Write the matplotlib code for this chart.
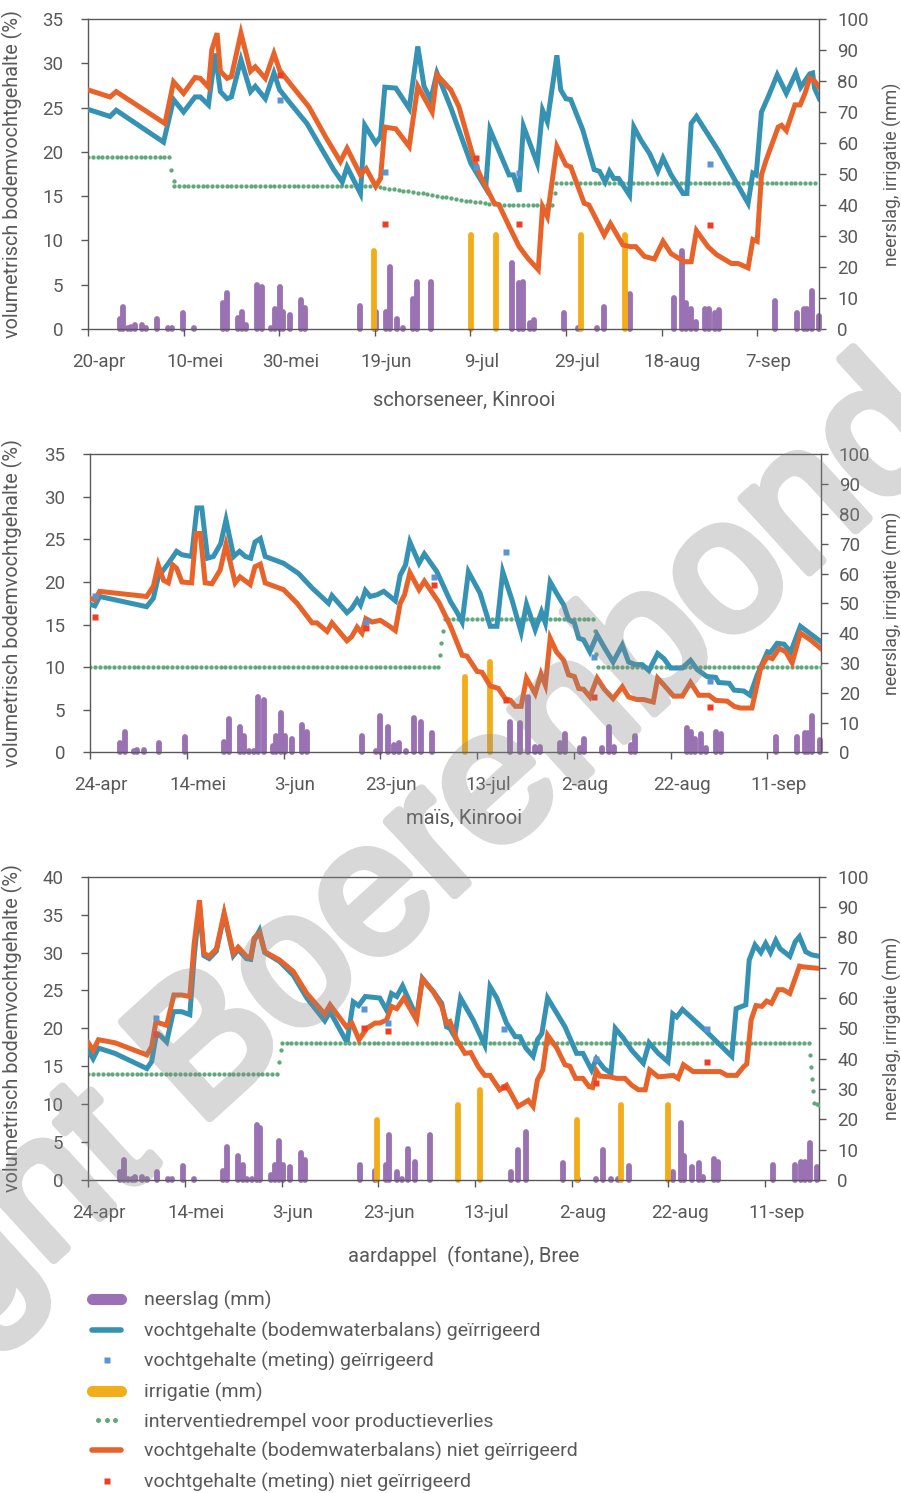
import numpy as np
import matplotlib
matplotlib.use('Agg')
import matplotlib.pyplot as plt
from matplotlib.lines import Line2D
from matplotlib.legend_handler import HandlerLine2D
from matplotlib.transforms import ScaledTranslation
from matplotlib import patheffects

plt.rcParams['font.family'] = ['Roboto', 'DejaVu Sans']

GRAY = '#595959'
BLUE = '#3592b3'
ORANGE = '#e8632a'
GREEN = '#5fa97b'
PURPLE = '#9a72b3'
YELLOW = '#f2ad1a'
SQ_BLUE = '#5b94d0'
SQ_RED = '#ee3f24'

# ---------------- panel 1: schorseneer, Kinrooi (day 0 = 20-apr) ----------------
s_ticks = ['20-apr', '10-mei', '30-mei', '19-jun', '9-jul', '29-jul', '18-aug', '7-sep']

s_blue_d = [0, 4.6, 5.9, 15.8, 17.9, 20, 22.4, 23.5, 25.2, 26.6, 27.7, 29.1, 30, 32, 34, 35, 37.1,
            38.9, 40.1, 42.3, 45.8, 48.6, 51.4, 53.2, 54.2, 57, 57.9, 60.2, 61.2, 62.1, 64.4, 67.2,
            69, 70.3, 71.7, 73, 75.9, 80.1, 83.2, 84.1, 88.1, 89, 90.2, 91.1, 94, 95.1, 96.1, 98.1,
            98.9, 100, 101, 103.5, 105.9, 107, 108.2, 109.1, 110, 111, 113.3, 114.2, 115.7, 117.5,
            119.2, 120.3, 122, 124.5, 125.3, 126.2, 127.3, 131.8, 138.1, 139.1, 139.8, 140.9,
            142.3, 144.2, 146.1, 148.1, 149.1, 151, 151.6, 152, 153]
s_blue_v = [24.8, 24.0, 24.7, 21.1, 25.9, 24.5, 26.2, 26.2, 25.3, 31.1, 26.8, 26.0, 26.2, 30.4, 26.8,
            27.4, 26.0, 28.9, 27.0, 25.5, 23.2, 20.6, 18.0, 16.6, 18.3, 15.3, 23.0, 21.0, 21.7, 27.3,
            27.2, 24.9, 31.9, 27.4, 25.9, 28.9, 25.0, 18.7, 15.9, 22.5, 17.4, 17.4, 15.5, 22.9, 18.7,
            24.7, 23.4, 30.9, 27.0, 26.0, 25.9, 22.5, 18.0, 17.8, 16.6, 17.8, 17.0, 17.0, 15.1, 22.8,
            21.3, 19.8, 17.8, 19.3, 17.4, 15.3, 15.3, 23.2, 24.0, 20.2, 14.2, 17.6, 17.4, 24.5, 26.2,
            28.7, 26.6, 28.9, 27.3, 28.8, 28.9, 27.2, 26.0]

s_orange_d = [0, 4.6, 5.9, 16.1, 17.9, 20, 22.4, 23.5, 25.2, 25.9, 27, 27.7, 29.1, 30, 32, 34, 35,
              37.1, 38.9, 40.1, 42.3, 46.2, 49.7, 52.8, 54.2, 57, 58.2, 60.2, 61.2, 62.1, 64.4,
              67.2, 68.2, 69, 72, 73, 75.9, 77.6, 80.4, 81.8, 85, 86, 88.1, 90.2, 92, 94.2, 95.1,
              96.1, 98.1, 100, 101, 103.8, 104.8, 108, 109.3, 111.9, 113.5, 114.6, 116.4, 118.5,
              120.3, 122, 124.8, 126.2, 127.3, 129.7, 131.5, 134.6, 136, 138.1, 139.1, 140, 140.9,
              141.9, 144.4, 145.1, 146.1, 147.9, 149, 150, 151, 152, 153]
s_orange_v = [27.0, 26.2, 26.8, 23.2, 27.9, 26.6, 28.4, 28.3, 27.3, 31.5, 33.4, 29.1, 28.3, 28.5,
              33.4, 29.1, 29.6, 28.3, 31.1, 29.2, 27.7, 25.1, 21.7, 18.9, 20.4, 17.4, 18.1, 16.1,
              17.0, 22.8, 22.6, 20.6, 24.4, 27.4, 24.5, 28.7, 27.0, 25.1, 19.8, 17.6, 14.2, 14.0,
              11.6, 9.3, 8.0, 6.7, 13.8, 12.7, 20.6, 18.5, 18.3, 14.2, 14.0, 10.6, 11.9, 9.5, 9.3,
              9.3, 8.2, 7.9, 9.9, 8.5, 7.6, 7.6, 11.1, 9.3, 8.4, 7.4, 7.4, 6.9, 10.1, 9.9, 17.4,
              19.1, 22.8, 23.0, 22.4, 25.3, 25.3, 26.6, 28.3, 28.0, 27.3]

# threshold: flat stretches (first day, last day, value), the sloping stretch, loose dots
s_thr_flat = [(0, 17, 19.4), (18, 60, 16.1), (88, 97, 14.0), (98, 152, 16.5)]
s_thr_slope_start = 61
s_thr_slope = [16.0, 15.95, 15.85, 15.8, 15.7, 15.6, 15.55, 15.45, 15.4, 15.3, 15.2, 15.15, 15.05,
               14.95, 14.85, 14.75, 14.7, 14.6, 14.5, 14.45, 14.35, 14.3, 14.2, 14.15, 14.1, 14.1,
               14.05]
s_thr_extra_d = [17.45, 17.9, 97.6]
s_thr_extra_v = [18.0, 16.7, 15.3]

s_rain_d = [6.6, 7.4, 8.3, 9, 9.8, 11.3, 12.2, 14.4, 16.7, 17.6, 19.9, 22.2, 28.2, 29.1, 31.3, 32.2,
            33.1, 35.4, 36.3, 38.3, 39.2, 40.1, 40.8, 42.3, 44.5, 45.5, 57, 60.2, 62.4, 63.2, 64.7,
            65.8, 67.9, 68.8, 71.8, 88.7, 90.2, 91.1, 92.5, 93.4, 99.5, 102.6, 106.5, 108, 113.4,
            122.7, 124.3, 125.2, 126.2, 127.3, 129, 129.9, 131.1, 132.1, 143.7, 148.3, 149.8,
            150.5, 151.4, 152.9]
s_rain_mm = [3.1, 7.0, 0.2, 0.8, 1.3, 1.3, 0.2, 3.1, 0.2, 0.2, 5.1, 0.2, 8.5, 11.5, 3.4, 5.4, 1.3,
             14.2, 13.4, 0.3, 6.3, 13.4, 5.4, 4.5, 9.4, 6.7, 7.4, 5.4, 5.4, 20.1, 3.2, 0.3, 9.6,
             15.3, 15.3, 21.2, 14.7, 15.3, 1.8, 2.9, 5.1, 0.2, 0.2, 7.2, 11.2, 10.1, 25.3, 8.3, 6.3,
             2.4, 6.3, 6.3, 5.1, 6.1, 9.1, 5.3, 6.3, 6.3, 12.3, 4.3]
s_irr_d = [59.8, 80.1, 85.3, 103.1, 112.4]
s_irr_mm = [25.3, 30.3, 30.3, 30.3, 30.3]

s_meas_d = [40.1, 62.1, 81.1, 90.2, 130.2]
s_meas_irr = [25.8, 17.7, 18.3, 17.6, 18.6]
s_meas_nirr = [28.7, 11.9, 19.3, 11.9, 11.7]

# ---------------- panel 2: maïs, Kinrooi (day 0 = 24-apr) ----------------
m_ticks = ['24-apr', '14-mei', '3-jun', '23-jun', '13-jul', '2-aug', '22-aug', '11-sep']

m_blue_d = [0, 1, 2, 11.7, 13.1, 14.1, 16.2, 17.9, 19, 21, 22.1, 23.1, 24.3, 25.5, 27, 28.1, 29.7,
            30.9, 32.1, 33.2, 34.1, 35.2, 36.2, 40, 43.1, 45.9, 49.3, 50, 53.1, 54.1, 55.2, 55.9,
            56.9, 57.9, 59.3, 60.7, 63.1, 64.1, 65.2, 66.1, 68, 69.1, 71.7, 74.5, 75.8, 76.9, 78.2,
            80.6, 82.7, 84.1, 85.3, 87.2, 89.1, 90.2, 92, 93.3, 94.1, 95.1, 96.4, 97.9, 98.9, 100.1,
            101, 102, 103.3, 104.8, 106.2, 108.1, 110, 111.3, 112.7, 114.1, 115.5, 117.3, 118.6,
            120, 122.4, 124.1, 125.5, 127.5, 129.3, 129.9, 132.1, 133.1, 135.1, 136.4, 137.9, 140,
            140.6, 142, 143.4, 144.8, 146.8, 151]
m_blue_v = [17.4, 17.2, 18.3, 17.1, 18.1, 20.6, 22.2, 23.6, 23.2, 23.0, 28.7, 28.7, 22.8, 23.0, 24.5,
            27.3, 23.0, 23.6, 23.0, 22.8, 24.7, 25.1, 23.0, 22.2, 21.0, 19.3, 17.5, 18.4, 16.4, 16.9,
            17.9, 17.3, 19.0, 18.3, 18.5, 18.9, 17.8, 20.8, 22.0, 24.7, 22.2, 23.3, 21.2, 17.7, 16.5,
            15.3, 21.2, 18.7, 14.8, 14.8, 21.2, 17.9, 14.1, 17.4, 14.4, 16.5, 15.2, 20.0, 18.7, 17.3,
            15.6, 15.2, 13.4, 13.2, 11.8, 13.8, 12.4, 10.6, 12.6, 10.6, 10.3, 10.3, 9.6, 11.6, 11.0,
            9.9, 9.9, 10.8, 9.7, 8.9, 8.8, 8.2, 8.1, 7.3, 7.2, 6.7, 9.1, 11.8, 11.7, 12.8, 12.7,
            11.8, 14.8, 13.0]

m_orange_d = [0, 1, 2, 11.7, 13.1, 14.1, 15.2, 16.2, 17.1, 17.9, 19, 21, 21.9, 22.8, 23.8, 25.2,
              26.9, 28.1, 30, 31, 33.1, 34.1, 35.2, 36.2, 40, 42.8, 45.9, 46.9, 49, 50, 53.1, 54.1,
              55.2, 56.2, 57, 58.3, 60, 61.9, 63.1, 64.1, 65, 66.1, 68, 69.1, 72.1, 74.5, 76.9,
              77.9, 80, 81, 82.7, 84.4, 85.8, 86.9, 87.9, 89.1, 90.2, 92, 93.2, 94.1, 95.1, 96.4,
              97.9, 98.9, 100.1, 101, 102, 103.3, 104.8, 106.3, 108.1, 110, 111.3, 113, 114.4,
              116.4, 117.3, 118.6, 120.6, 122.4, 124.1, 125.8, 127.9, 129.3, 131.7, 133.1, 134.4,
              136.8, 138.6, 140, 141, 142.4, 143.8, 145.1, 146.8, 148.9, 151]
m_orange_v = [18.1, 17.9, 18.9, 18.3, 19.5, 22.0, 20.2, 19.9, 22.0, 21.6, 20.0, 19.9, 25.7, 25.7,
              19.9, 19.8, 21.4, 24.4, 19.9, 20.6, 19.7, 21.8, 22.1, 19.9, 19.1, 17.5, 15.2, 15.2,
              14.2, 15.2, 13.1, 13.6, 14.7, 14.0, 15.7, 15.3, 15.5, 14.8, 14.3, 17.5, 18.5, 21.1,
              19.1, 20.1, 17.6, 14.8, 11.4, 11.3, 9.5, 9.4, 7.8, 7.5, 6.3, 6.1, 5.4, 5.4, 8.7, 6.9,
              9.2, 7.9, 13.4, 11.8, 10.8, 9.1, 8.9, 7.5, 7.4, 6.5, 8.7, 7.4, 6.3, 7.7, 6.5, 6.2, 6.2,
              5.9, 8.7, 7.9, 6.6, 6.6, 8.2, 6.7, 6.7, 6.1, 6.0, 5.4, 5.2, 5.2, 9.9, 11.2, 11.0, 12.2,
              11.8, 10.5, 14.0, 13.2, 12.2]

m_thr_flat = [(0, 72, 10.0), (74, 104, 15.7), (105, 151, 10.0)]
m_thr_slope_start = 0
m_thr_slope = []
m_thr_extra_d = [72.3, 72.6, 72.9, 73.3, 104.3, 104.6]
m_thr_extra_v = [11.4, 12.8, 14.2, 15.6, 14.3, 11.5]

m_rain_d = [6.3, 7.2, 8.3, 9, 9.7, 11.2, 11.9, 14.3, 16.6, 17.2, 19.7, 21.9, 27.7, 28.7, 30.9, 31.9,
            32.8, 33.9, 34.8, 35.9, 37.8, 38.5, 39.4, 40.2, 41.7, 43.9, 44.8, 55.5, 56.2, 57.6, 59,
            60, 61.5, 62.8, 63.8, 65.2, 66.9, 68.4, 70.7, 86.7, 88.9, 90.5, 92, 92.9, 97.2, 98.2,
            101.2, 102, 105.8, 107.3, 108.2, 111.7, 112.7, 122.6, 123.4, 124.2, 125.1, 126.3,
            127.2, 129.4, 130.3, 141.7, 146.2, 147.7, 148.4, 149.3, 150.9]
m_rain_mm = [3.0, 6.9, 0.2, 0.5, 0.8, 0.8, 0.2, 3.0, 0.2, 0.2, 5.0, 0.2, 3.4, 11.1, 8.4, 5.5, 0.3, 0.3,
             18.7, 17.6, 2.1, 5.5, 13.3, 5.5, 4.4, 9.2, 6.9, 0.2, 5.5, 0.2, 0.3, 12.2, 8.6, 2.5, 3.0,
             0.5, 11.4, 10.3, 6.4, 10.3, 10.0, 18.7, 1.9, 1.9, 3.0, 6.2, 1.3, 4.4, 1.3, 8.4, 1.9, 2.5,
             5.5, 0.2, 8.1, 6.9, 4.4, 6.2, 1.3, 6.9, 6.2, 5.3, 5.3, 6.4, 6.4, 12.2, 4.1]
m_irr_d = [77.4, 82.6]
m_irr_mm = [25.4, 30.4]

m_meas_d = [1, 57.1, 71, 86, 104.1, 128.1]
m_meas_irr = [18.4, 15.3, 20.6, 23.5, 11.2, 8.4]
m_meas_nirr = [15.9, 14.6, 19.7, 6.2, 6.5, 5.3]

# ---------------- panel 3: aardappel (fontane), Bree (day 0 = 24-apr) ----------------
a_ticks = m_ticks

a_blue_d = [0, 1, 2.1, 5.5, 12.1, 13.1, 14.1, 14.8, 16.2, 17.6, 19.3, 21, 21.9, 23, 23.9, 25, 26.5,
            28.1, 30, 31, 32.7, 33.6, 34.3, 35.4, 36.5, 39.6, 42.4, 45.2, 48.9, 50, 53.2, 53.6,
            54.8, 55.9, 57.3, 60.3, 61.7, 62.7, 63.8, 65, 67.9, 69.1, 71.4, 73.1, 74.1, 74.8, 75.8,
            77, 79.6, 82, 83.1, 84.5, 86.5, 88.3, 89.3, 90.5, 92, 92.9, 93.8, 95, 96.9, 98.6, 101,
            102.3, 104.1, 105.1, 106.7, 108.1, 109, 110.7, 112.4, 114.8, 116, 117.9, 119.9, 120.9,
            121.7, 122.9, 127.5, 133.1, 134, 136, 136.7, 137.9, 139.1, 140.1, 141.1, 142.2, 143.1,
            145.1, 146.2, 147.1, 148.4, 149.6, 151.2]
a_blue_v = [17.1, 16.0, 17.4, 16.7, 14.7, 15.6, 19.3, 19.1, 18.2, 22.2, 22.2, 21.8, 29.5, 36.3, 29.6,
            29.2, 30.2, 35.0, 29.6, 30.4, 29.2, 29.1, 31.6, 32.9, 30.0, 28.8, 27.0, 24.0, 21.0, 22.2,
            18.5, 18.5, 23.5, 23.0, 24.2, 24.0, 22.4, 24.6, 24.2, 25.6, 21.5, 26.6, 24.8, 23.3, 20.2,
            20.0, 18.9, 24.0, 21.1, 17.8, 25.5, 24.0, 20.7, 18.9, 18.9, 17.4, 16.3, 18.5, 19.3, 24.0,
            22.0, 20.2, 16.7, 16.7, 14.5, 16.0, 14.7, 14.1, 20.0, 18.7, 17.1, 15.4, 18.1, 16.7, 15.6,
            21.9, 21.5, 22.5, 19.8, 16.3, 22.6, 23.1, 29.0, 31.0, 30.0, 31.2, 30.0, 31.6, 30.5, 29.5,
            31.4, 32.1, 30.1, 29.7, 29.5]

a_orange_d = [0, 1, 2.1, 5.5, 12.1, 13.1, 14, 14.7, 16.2, 17.7, 19.3, 21, 21.9, 23, 23.9, 25, 26.5,
              28.1, 30, 31, 32.7, 33.6, 34.3, 35.4, 36.5, 39.6, 42.4, 45.2, 48.9, 50, 53.4, 54.5, 56,
              57.6, 59.3, 60.3, 61.7, 62.7, 63.8, 65.3, 67.9, 69.1, 71.4, 73.1, 74.1, 74.8, 76.2,
              77.9, 79.1, 80.7, 82, 83.1, 85.1, 86.5, 88.9, 91, 92, 92.9, 94, 95, 96.9, 98.6, 99.6,
              100.8, 102.3, 103.6, 104.3, 105.1, 105.8, 107.9, 109.3, 111, 112.4, 113.8, 115.2,
              116.1, 117.9, 119.6, 121, 122, 123.1, 125.1, 127.9, 130.7, 132.1, 134.1, 135.5, 136.2,
              137.1, 138.1, 139.3, 140.3, 141.3, 142.7, 143.7, 145.1, 147.1, 147.9, 151.2]
a_orange_v = [18.1, 17.1, 18.5, 18.1, 16.5, 17.6, 20.9, 20.7, 20.4, 24.4, 24.4, 24.2, 31.2, 36.9,
              29.9, 29.5, 30.5, 35.2, 29.9, 30.7, 29.5, 29.4, 31.9, 32.6, 30.1, 29.0, 27.5, 24.6,
              21.9, 23.1, 20.2, 20.7, 18.5, 20.0, 20.7, 20.7, 21.1, 22.9, 22.6, 24.0, 21.1, 26.5,
              24.8, 22.9, 20.7, 20.9, 18.5, 16.7, 16.8, 14.9, 13.8, 13.8, 11.9, 12.5, 9.7, 10.5, 9.7,
              13.2, 14.5, 19.1, 17.4, 15.2, 15.0, 13.4, 13.4, 12.3, 12.2, 14.4, 13.7, 13.6, 13.4,
              13.4, 12.5, 11.9, 11.9, 14.5, 13.6, 13.7, 13.8, 13.4, 15.2, 14.3, 14.3, 14.3, 13.8,
              13.8, 14.9, 15.3, 21.1, 23.0, 22.9, 23.6, 23.3, 25.1, 25.1, 24.6, 28.2, 28.1, 27.9]

a_thr_flat = [(0, 39, 14.0), (40, 149, 18.1)]
a_thr_slope_start = 0
a_thr_slope = []
a_thr_extra_d = [39.4, 39.8, 149.3, 149.5, 149.7, 149.9, 150.2, 150.7, 151.2]
a_thr_extra_v = [15.5, 17.1, 16.5, 14.9, 13.3, 11.7, 10.2, 10.0, 9.9]

a_rain_d = [6.5, 7.4, 8.3, 9, 9.7, 11.2, 12.1, 14.3, 16.5, 17.4, 19.5, 21.9, 27.8, 28.7, 30.9, 31.9,
            32.9, 33.9, 34.8, 35.6, 37.7, 38.6, 39.5, 40.3, 41.7, 43.9, 44.8, 56.2, 59.3, 61.5,
            62.3, 63.8, 64.8, 66.2, 67.6, 70.7, 87.4, 88.9, 90.5, 98.1, 101.2, 105, 106.5, 108.1,
            109.6, 111.9, 120.9, 122.5, 123.3, 124.8, 126.4, 127.2, 129.4, 130.3, 141.6, 146.2,
            147.5, 148.2, 149.3, 150.7]
a_rain_mm = [2.7, 6.6, 0.2, 0.3, 1.1, 0.9, 0.2, 2.7, 0.2, 0.2, 4.6, 0.2, 3.1, 10.8, 7.9, 4.9, 0.3,
             0.3, 18.1, 17.3, 1.6, 4.9, 13.0, 4.9, 4.2, 9.0, 6.6, 4.9, 3.1, 4.9, 14.8, 2.7, 0.3,
             10.1, 6.0, 14.8, 2.7, 9.9, 15.9, 5.7, 0.2, 0.3, 9.9, 0.2, 0.2, 4.6, 2.7, 18.7, 7.9, 4.2,
             5.7, 1.1, 6.8, 6.0, 4.9, 4.9, 6.0, 6.0, 12.1, 4.2]
a_irr_d = [59.8, 76.5, 81.1, 101, 110.1, 120]
a_irr_mm = [19.8, 24.7, 29.7, 19.8, 24.7, 24.7]

a_meas_d = [14, 57, 62, 86, 105, 127.9]
a_meas_irr = [21.3, 22.5, 20.7, 19.9, 15.9, 19.9]
a_meas_nirr = [19.3, 20.0, 19.7, 12.2, 12.8, 15.5]


def threshold(flat, slope_start, slope, extra_d, extra_v):
    d, v = [], []
    for d0, d1, val in flat:
        for k in range(d0, d1 + 1):
            d.append(k)
            v.append(val)
    for i, val in enumerate(slope):
        d.append(slope_start + i)
        v.append(val)
    d += extra_d
    v += extra_v
    order = np.argsort(d)
    return np.array(d, dtype=float)[order], np.array(v)[order]


fig = plt.figure(figsize=(9.01, 14.93), dpi=100)
W, H = 901.0, 1493.0


def px_box(x0, y0, x1, y1):
    return [x0 / W, 1 - y1 / H, (x1 - x0) / W, (y1 - y0) / H]


def draw_panel(box, ymax, xmax, ticks, blue, orange, thr, rain, irr, meas, title, title_y):
    ax = fig.add_axes(px_box(*box))
    axr = ax.twinx()
    ax.set_zorder(axr.get_zorder() + 1)
    ax.patch.set_visible(False)

    # bars on the mm axis
    bars = axr.vlines(rain[0], 0, rain[1], colors=PURPLE, linewidth=4.2, clip_on=False)
    bars.set_capstyle('round')
    ib = axr.vlines(irr[0], 0, irr[1], colors=YELLOW, linewidth=4.2, clip_on=False)
    ib.set_capstyle('round')

    td, tv = threshold(*thr)
    ax.plot(td, tv, ls='', marker='o', ms=3.1, color=GREEN, mec='none', zorder=2)
    ax.plot(blue[0], blue[1], color=BLUE, lw=3.6, solid_joinstyle='miter', zorder=3)
    ax.plot(orange[0], orange[1], color=ORANGE, lw=3.6, solid_joinstyle='miter', zorder=4)
    ax.plot(meas[0], meas[1], ls='', marker='s', ms=5, color=SQ_BLUE, mec='none', zorder=5)
    ax.plot(meas[0], meas[2], ls='', marker='s', ms=5, color=SQ_RED, mec='none', zorder=5)

    ax.set_xlim(0, xmax)
    ax.set_ylim(0, ymax)
    axr.set_ylim(0, 100)
    ax.set_yticks(np.arange(0, ymax + 1, 5))
    axr.set_yticks(np.arange(0, 101, 10))
    ax.set_xticks(np.arange(0, 141, 20))
    ax.set_xticklabels(ticks)

    for a in (ax, axr):
        for sp in a.spines.values():
            sp.set_color(GRAY)
            sp.set_linewidth(1.0)
    ax.spines['right'].set_visible(False)
    for s in ('left', 'top', 'bottom'):
        axr.spines[s].set_visible(False)

    ax.tick_params(axis='y', direction='out', length=5, width=1, colors=GRAY, labelsize=13.5, pad=13)
    axr.tick_params(axis='y', direction='out', length=5, width=1, colors=GRAY, labelsize=13.5, pad=8)
    ax.tick_params(axis='x', direction='out', length=5, width=1, colors=GRAY, labelsize=13.5, pad=12)
    for lab in ax.get_xticklabels():
        lab.set_transform(lab.get_transform() + ScaledTranslation(0.11, 0, fig.dpi_scale_trans))

    ax.set_ylabel('volumetrisch bodemvochtgehalte (%)', color=GRAY, fontsize=14.3)
    ax.yaxis.set_label_coords((23 - box[0]) / (box[2] - box[0]), 0.5)
    axr.set_ylabel('neerslag, irrigatie (mm)', color=GRAY, fontsize=12.8)
    axr.yaxis.set_label_coords((883 - box[0]) / (box[2] - box[0]), 0.5)

    fig.text(464 / W, 1 - title_y / H, title, ha='center', va='center', color=GRAY, fontsize=14.5)
    return ax


draw_panel((88, 19, 819.3, 329), 35, 153, s_ticks,
           (s_blue_d, s_blue_v), (s_orange_d, s_orange_v),
           (s_thr_flat, s_thr_slope_start, s_thr_slope, s_thr_extra_d, s_thr_extra_v),
           (s_rain_d, s_rain_mm), (s_irr_d, s_irr_mm),
           (s_meas_d, s_meas_irr, s_meas_nirr), 'schorseneer, Kinrooi', 400)

draw_panel((90, 454.3, 820.7, 752.3), 35, 151, m_ticks,
           (m_blue_d, m_blue_v), (m_orange_d, m_orange_v),
           (m_thr_flat, m_thr_slope_start, m_thr_slope, m_thr_extra_d, m_thr_extra_v),
           (m_rain_d, m_rain_mm), (m_irr_d, m_irr_mm),
           (m_meas_d, m_meas_irr, m_meas_nirr), 'maïs, Kinrooi', 818)

draw_panel((88.3, 876.7, 819.3, 1180), 40, 151.2, a_ticks,
           (a_blue_d, a_blue_v), (a_orange_d, a_orange_v),
           (a_thr_flat, a_thr_slope_start, a_thr_slope, a_thr_extra_d, a_thr_extra_v),
           (a_rain_d, a_rain_mm), (a_irr_d, a_irr_mm),
           (a_meas_d, a_meas_irr, a_meas_nirr), 'aardappel  (fontane), Bree', 1256)

# legend
h_rain = Line2D([], [], color=PURPLE, lw=8, solid_capstyle='round')
h_blue = Line2D([], [], color=BLUE, lw=4, solid_capstyle='round')
h_mblue = Line2D([], [], ls='', marker='s', ms=5, color=SQ_BLUE, mec='none')
h_irr = Line2D([], [], color=YELLOW, lw=8, solid_capstyle='round')
h_thr = Line2D([], [], ls='', marker='o', ms=3.6, color=GREEN, mec='none')
h_orange = Line2D([], [], color=ORANGE, lw=4, solid_capstyle='round')
h_mred = Line2D([], [], ls='', marker='s', ms=5, color=SQ_RED, mec='none')
legend_labels = ['neerslag (mm)',
                 'vochtgehalte (bodemwaterbalans) geïrrigeerd',
                 'vochtgehalte (meting) geïrrigeerd',
                 'irrigatie (mm)',
                 'interventiedrempel voor productieverlies',
                 'vochtgehalte (bodemwaterbalans) niet geïrrigeerd',
                 'vochtgehalte (meting) niet geïrrigeerd']
leg = fig.legend([h_rain, h_blue, h_mblue, h_irr, h_thr, h_orange, h_mred], legend_labels,
                 loc='upper left', bbox_to_anchor=(92 / W, 1 - 1291 / H), frameon=False,
                 fontsize=14, handlelength=1.5, handletextpad=1.15, labelspacing=0.58,
                 borderpad=0, borderaxespad=0,
                 handler_map={h_thr: HandlerLine2D(numpoints=3)})
for t in leg.get_texts():
    t.set_color(GRAY)


# watermark: drawn opaque with a thickening stroke, then faded as a whole
def fade(img, dpi):
    out = np.empty_like(img)
    out[..., :3] = 0.54
    out[..., 3] = img[..., 3] * 0.33
    return out, 0, 0


wm = fig.text(954 / W, 1 - 440 / H, 'Copyright Boerenbond', rotation=42.3, rotation_mode='anchor',
              ha='right', va='baseline', fontsize=135, color='#8a8a8a',
              family='Liberation Sans', zorder=20)
wm.set_path_effects([patheffects.Stroke(linewidth=7, foreground='#8a8a8a')])
wm.set_agg_filter(fade)

fig.savefig('out.png', dpi=100)
